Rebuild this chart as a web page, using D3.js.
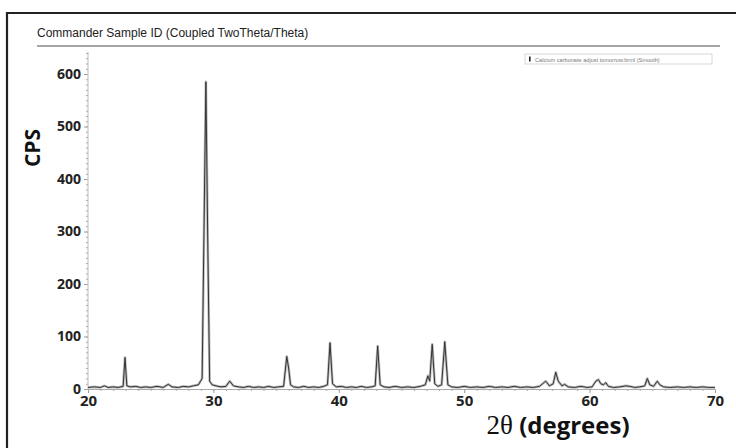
<!DOCTYPE html>
<html><head><meta charset="utf-8">
<script src="https://cdn.jsdelivr.net/npm/d3@7"></script>
<style>html,body{margin:0;padding:0;background:#fff;}svg{display:block;}</style>
</head><body>
<svg id="c" width="736" height="448"></svg>
<script>
const title = "Commander Sample ID (Coupled TwoTheta/Theta)";
const legendLabel = "Calcium carbonate adjust tomorrow.brml (Smooth)";
const xTicks = [20, 30, 40, 50, 60, 70];
const yTicks = [0, 100, 200, 300, 400, 500, 600];
const twoTheta = [20.0,20.5,21.0,21.3,21.6,22.0,22.4,22.8,22.95,23.1,23.4,23.8,24.2,24.6,25.0,25.5,26.0,26.4,26.7,27.2,27.6,28.0,28.4,28.8,29.1,29.25,29.4,29.55,29.7,29.9,30.2,30.6,31.0,31.3,31.6,32.0,32.4,32.8,33.2,33.6,34.0,34.4,34.8,35.2,35.6,35.85,36.0,36.15,36.4,36.8,37.2,37.6,38.0,38.4,38.8,39.1,39.3,39.5,39.8,40.2,40.6,41.0,41.4,41.8,42.2,42.6,42.9,43.1,43.3,43.6,44.0,44.5,45.0,45.5,46.0,46.5,46.9,47.1,47.25,47.45,47.65,47.9,48.2,48.45,48.7,49.0,49.5,50.0,50.5,51.0,51.5,52.0,52.5,53.0,53.5,54.0,54.5,55.0,55.5,56.0,56.5,56.8,57.1,57.3,57.5,57.8,58.0,58.3,58.8,59.3,59.8,60.2,60.5,60.7,60.9,61.1,61.3,61.5,61.9,62.4,62.9,63.2,63.6,64.0,64.4,64.6,64.8,65.1,65.4,65.6,65.9,66.4,67.0,67.5,68.0,68.5,69.0,69.5,70.0];
const cps = [3,4,3,6,3,4,3,5,60,6,4,5,3,4,3,5,3,9,4,3,5,4,6,8,20,300,585,280,15,8,6,4,5,15,6,4,3,5,3,4,3,5,3,4,5,62,40,8,4,3,5,3,4,3,5,8,88,10,4,5,3,4,3,5,3,4,6,82,8,4,3,5,3,4,3,5,8,25,15,85,10,5,8,90,8,4,3,5,3,4,3,5,3,4,3,5,3,4,3,5,15,6,10,32,15,6,9,4,3,5,3,4,15,18,10,8,12,5,3,4,6,5,3,4,6,20,8,5,15,8,4,3,4,3,4,3,4,3,3];

const svg = d3.select("#c");
const x = d3.scaleLinear().domain([20, 70]).range([88, 715]);
const y = d3.scaleLinear().domain([0, 600]).range([389, 74]);

// frame
svg.append("path").attr("d","M7,448 V13 H736").attr("fill","none").attr("stroke","#222").attr("stroke-width",2.2);

// title
svg.append("text").attr("x",37).attr("y",37).attr("font-family","Arial, Liberation Sans, sans-serif")
  .attr("font-size",12).attr("fill","#222").text(title);
svg.append("line").attr("x1",37).attr("x2",720).attr("y1",46).attr("y2",46).attr("stroke","#888").attr("stroke-width",1.6);

// legend
const lg = svg.append("g");
lg.append("rect").attr("x",525).attr("y",54).attr("width",187).attr("height",10).attr("fill","#fff").attr("stroke","#ccc").attr("stroke-width",0.8);
lg.append("rect").attr("x",529).attr("y",56.5).attr("width",1.6).attr("height",5).attr("fill","#222");
lg.append("text").attr("x",535).attr("y",61.5).attr("font-family","Arial, Liberation Sans, sans-serif").attr("font-size",5.6).attr("fill","#777").text(legendLabel);

// y axis
const yAxis = d3.axisLeft(y).tickValues(yTicks).tickSize(4).tickFormat(d3.format("d"));
const gy = svg.append("g").attr("transform","translate(88,0)").call(yAxis);
gy.select(".domain").remove();
gy.selectAll(".tick line").attr("stroke","#999");
gy.selectAll(".tick text").attr("font-family","Open Sans, sans-serif").attr("font-weight","bold").attr("font-size",14).attr("fill","#222").attr("x",-7);
const yMinor = d3.axisLeft(y).tickValues(d3.range(0, 641, 10)).tickSize(2).tickFormat("");
const gym = svg.append("g").attr("transform","translate(88,0)").call(yMinor);
gym.select(".domain").remove();
gym.selectAll(".tick line").attr("stroke","#aaa");
svg.append("line").attr("x1",88).attr("x2",88).attr("y1",y(0)).attr("y2",y(642)).attr("stroke","#bbb").attr("stroke-width",1);

// x axis
const xAxis = d3.axisBottom(x).tickValues(xTicks).tickSize(4).tickFormat(d3.format("d"));
const gx = svg.append("g").attr("transform",`translate(0,${y(0)})`).call(xAxis);
gx.select(".domain").attr("stroke","#aaa");
gx.selectAll(".tick line").attr("stroke","#999");
gx.selectAll(".tick text").attr("font-family","Open Sans, sans-serif").attr("font-weight","bold").attr("font-size",15).attr("fill","#222").attr("y",6);
const xMinor = d3.axisBottom(x).tickValues(d3.range(20, 70.01, 1)).tickSize(2).tickFormat("");
const gxm = svg.append("g").attr("transform",`translate(0,${y(0)})`).call(xMinor);
gxm.select(".domain").remove();
gxm.selectAll(".tick line").attr("stroke","#aaa");

// data line
const pts = twoTheta.map((t,i)=>[t,cps[i]]);
const line = d3.line().x(d=>x(d[0])).y(d=>y(d[1]));
svg.append("path").datum(pts).attr("d",line).attr("fill","none").attr("stroke","#bbb").attr("stroke-width",2.6).attr("stroke-linejoin","round");
svg.append("path").datum(pts).attr("d",line).attr("fill","none").attr("stroke","#333").attr("stroke-width",1).attr("stroke-linejoin","round");

// axis labels
svg.append("text").attr("transform","translate(40,148) rotate(-90)").attr("text-anchor","middle")
  .attr("font-family","Open Sans, sans-serif").attr("font-weight","bold").attr("font-size",21).attr("fill","#111").text("CPS");
const xl = svg.append("text").attr("x",558).attr("y",434).attr("text-anchor","middle").attr("fill","#111");
xl.append("tspan").attr("font-family","Liberation Serif, Times New Roman, serif").attr("font-size",27).text("2θ");
xl.append("tspan").attr("font-family","Open Sans, sans-serif").attr("font-weight","bold").attr("font-size",24).text(" (degrees)");
</script>
</body></html>
